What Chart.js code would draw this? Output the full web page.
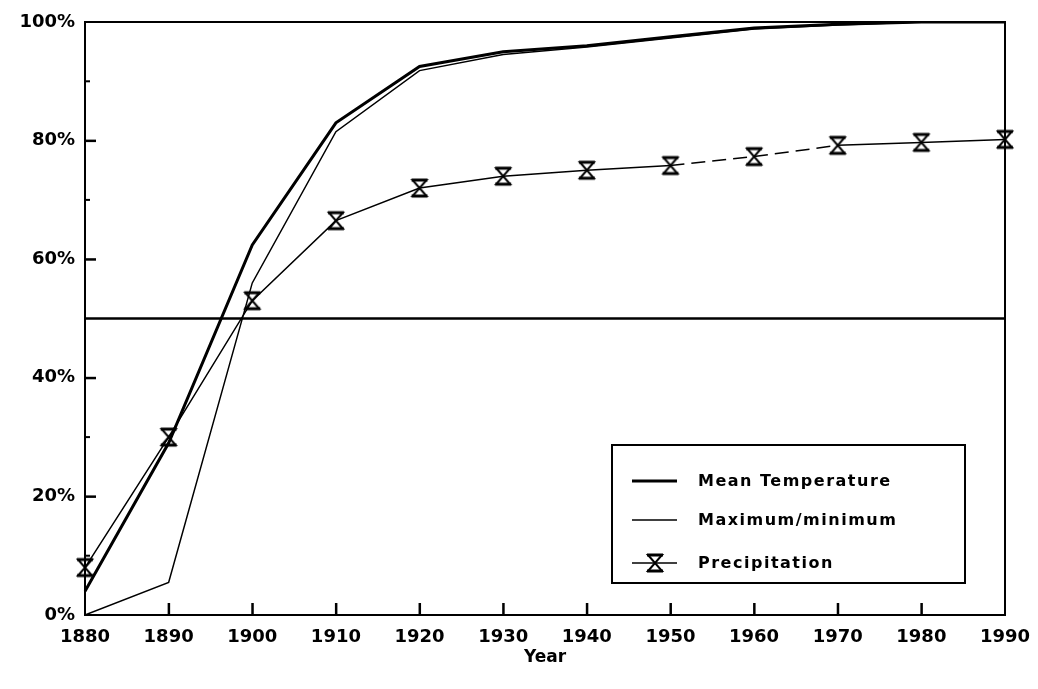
<!DOCTYPE html>
<html>
<head>
<meta charset="utf-8">
<script src="https://cdn.jsdelivr.net/npm/chart.js@4"></script>
<style>
    html, body { margin: 0; padding: 0; background: #fff; }
    #wrap { width: 1038px; height: 689px; }
</style>
</head>
<body>
<div id="wrap"><canvas id="chart" width="1038" height="689"></canvas></div>
<script>
// Chart data
const years = ['1880', '1890', '1900', '1910', '1920', '1930', '1940', '1950', '1960', '1970', '1980', '1990'];
const meanTemperature = [4, 29, 62.4, 83, 92.5, 95, 96, 97.5, 99, 99.6, 100, 100];
const maxMin = [0, 5.5, 56, 81.5, 91.8, 94.5, 95.8, 97.3, 98.8, 99.5, 100, 100];
const precipitation = [8, 30, 53, 66.5, 72, 74, 75, 75.8, 77.3, 79.2, 79.7, 80.2];
const halfLine = years.map(() => 50);
const yTicks = [0, 20, 40, 60, 80, 100];

const FONT = '"DejaVu Sans", sans-serif';

// hourglass marker used for the precipitation series
function makeHourglass() {
    const c = document.createElement('canvas');
    c.width = 20;
    c.height = 22;
    const g = c.getContext('2d');
    g.strokeStyle = '#000';
    g.lineWidth = 2;
    g.beginPath();
    g.moveTo(3, 3);
    g.lineTo(17, 3);
    g.lineTo(3, 19);
    g.lineTo(17, 19);
    g.closePath();
    g.stroke();
    g.lineWidth = 3;
    g.beginPath();
    g.moveTo(2, 3); g.lineTo(18, 3);
    g.moveTo(2, 19); g.lineTo(18, 19);
    g.stroke();
    return c;
}
const hourglass = makeHourglass();

// frame, inward ticks and the boxed legend
const framePlugin = {
    id: 'frame',
    afterDraw(chart) {
        const { ctx, chartArea: a } = chart;
        const xs = chart.scales.x, ys = chart.scales.y;
        ctx.save();
        ctx.strokeStyle = '#000';
        ctx.lineWidth = 2;
        ctx.strokeRect(a.left, a.top, a.right - a.left, a.bottom - a.top);

        // inward tick marks
        ctx.fillStyle = '#000';
        [20, 40, 60, 80].forEach(v => {
            const y = ys.getPixelForValue(v);
            ctx.fillRect(a.left, y - 1, 11, 2.5);
        });
        [10, 30, 70, 90].forEach(v => {
            const y = ys.getPixelForValue(v);
            ctx.fillRect(a.left, y - 1, 5, 2);
        });
        for (let i = 1; i < years.length - 1; i++) {
            const x = xs.getPixelForValue(i);
            ctx.fillRect(x - 1, a.bottom - 12, 2.5, 12);
        }

        // legend box
        const bx = 612, by = 445, bw = 353, bh = 138;
        ctx.fillStyle = '#fff';
        ctx.fillRect(bx, by, bw, bh);
        ctx.lineWidth = 2;
        ctx.strokeRect(bx, by, bw, bh);

        const rows = [
            { label: 'Mean Temperature', width: 3, marker: false, y: 481 },
            { label: 'Maximum/minimum', width: 1.5, marker: false, y: 520 },
            { label: 'Precipitation', width: 1.5, marker: true, y: 563 }
        ];
        ctx.font = 'bold 16px ' + FONT;
        ctx.letterSpacing = '1.5px';
        ctx.textBaseline = 'middle';
        ctx.fillStyle = '#000';
        rows.forEach(r => {
            ctx.lineWidth = r.width;
            ctx.beginPath();
            ctx.moveTo(632, r.y);
            ctx.lineTo(677, r.y);
            ctx.stroke();
            if (r.marker) {
                ctx.drawImage(hourglass, 645, r.y - 11);
            }
            ctx.fillText(r.label, 698, r.y + 1);
        });
        ctx.restore();
    }
};

new Chart(document.getElementById('chart'), {
    type: 'line',
    data: {
        labels: years,
        datasets: [
            {
                label: 'Mean Temperature',
                data: meanTemperature,
                borderColor: '#000',
                borderWidth: 3,
                pointRadius: 0,
                tension: 0
            },
            {
                label: 'Maximum/minimum',
                data: maxMin,
                borderColor: '#000',
                borderWidth: 1.5,
                pointRadius: 0,
                tension: 0
            },
            {
                label: 'Precipitation',
                data: precipitation,
                borderColor: '#000',
                borderWidth: 1.5,
                pointStyle: hourglass,
                pointRadius: 9,
                tension: 0,
                // the scanned original breaks up between 1950 and 1970
                segment: {
                    borderDash: c => (c.p0DataIndex === 7 || c.p0DataIndex === 8) ? [14, 7] : undefined
                }
            },
            {
                label: '50%',
                data: halfLine,
                borderColor: '#000',
                borderWidth: 2.5,
                pointRadius: 0
            }
        ]
    },
    options: {
        responsive: false,
        animation: false,
        events: [],
        layout: {
            padding: { left: 0, right: 33, top: 22, bottom: 0 }
        },
        plugins: {
            legend: { display: false },
            tooltip: { enabled: false }
        },
        scales: {
            x: {
                grid: { display: false, drawTicks: false },
                border: { display: false },
                ticks: {
                    color: '#000',
                    font: { family: FONT, size: 18, weight: 'bold' },
                    padding: 12,
                    maxRotation: 0,
                    autoSkip: false
                },
                title: {
                    display: true,
                    text: 'Year',
                    color: '#000',
                    font: { family: FONT, size: 17, weight: 'bold' },
                    padding: { top: 4, bottom: 21 }
                },
                afterFit(scale) {
                    scale.height = 74;
                    scale.paddingLeft = 0;
                    scale.paddingRight = 0;
                }
            },
            y: {
                min: 0,
                max: 100,
                grid: { display: false, drawTicks: false },
                border: { display: false },
                afterBuildTicks(scale) {
                    scale.ticks = yTicks.map(v => ({ value: v }));
                },
                ticks: {
                    color: '#000',
                    font: { family: FONT, size: 18, weight: 'bold' },
                    padding: 10,
                    callback: v => v + '%'
                },
                afterFit(scale) { scale.width = 85; }
            }
        }
    },
    plugins: [framePlugin]
});
</script>
</body>
</html>
